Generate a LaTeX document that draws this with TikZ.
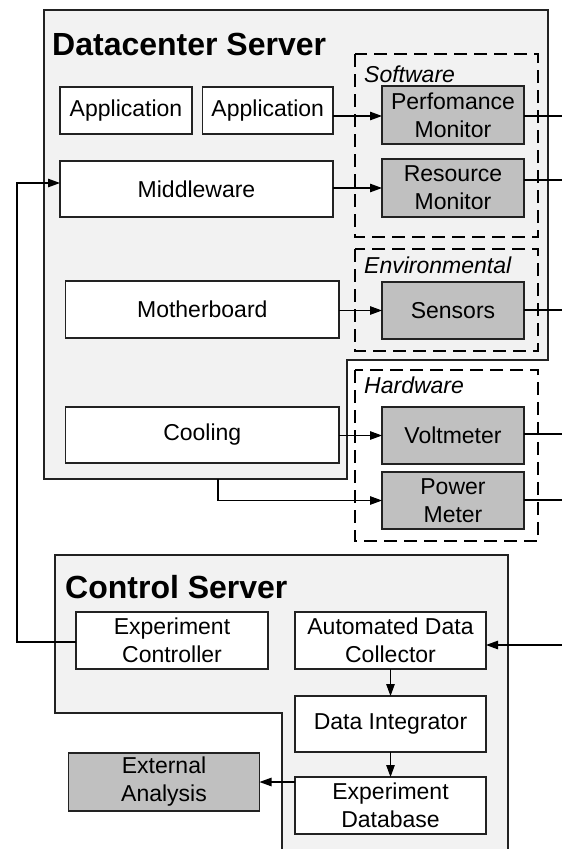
\documentclass[tikz,border=0pt]{standalone}
\usepackage{fontspec}
\setmainfont{Liberation Sans}
\usetikzlibrary{arrows.meta}
\definecolor{srvbg}{HTML}{F2F2F2}
\definecolor{probe}{HTML}{C0C0C0}
\definecolor{edge}{HTML}{222222}
\begin{document}
\begin{tikzpicture}[x=1pt,y=-1pt,
  server/.style={fill=srvbg,draw=edge,line width=1.2pt},
  group/.style={draw=black,line width=2.2pt,dash pattern=on 13pt off 7pt},
  grouplabel/.style={anchor=base west,inner sep=0pt,font=\fontsize{23}{28}\selectfont\itshape},
  title/.style={anchor=base west,inner sep=0pt,font=\fontsize{32}{36}\selectfont\bfseries},
  box/.style={draw=edge,line width=1.2pt,fill=white,inner sep=0pt,outer sep=0pt,
    align=center,font=\fontsize{23}{28}\selectfont},
  probebox/.style={box,fill=probe},
  link/.style={draw=black,line width=1.1pt},
  arrow/.style={link,-{Triangle[length=12pt,width=8.5pt]}}
]
\useasboundingbox (0,0) rectangle (562,849);
\clip (0,0) rectangle (562,849);
\fill[white] (0,0) rectangle (562,849);

% server outlines
\draw[server] (44,10) -- (548,10) -- (548,360) -- (347,360) -- (347,479) -- (44,479) -- cycle;
\draw[server] (55,555) -- (508,555) -- (508,855) -- (282,855) -- (282,713) -- (55,713) -- cycle;

\node[title] (dctitle) at (52,55) {Datacenter Server};
\node[title] (cstitle) at (65,598) {Control Server};

% dashed groups
\draw[group] (355,54) rectangle (538,237);
\draw[group] (355,249) rectangle (538,351);
\draw[group] (355,370) rectangle (538,541);
\node[grouplabel] (swlabel) at (364,82) {Software};
\node[grouplabel] (envlabel) at (364,273) {Environmental};
\node[grouplabel] (hwlabel) at (364,393) {Hardware};

% datacenter nodes
\node[box,minimum width=132pt,minimum height=47pt] (app1) at (126,110.5) {Application};
\node[box,minimum width=130.5pt,minimum height=47pt] (app2) at (267.75,110.5) {Application};
\node[box,minimum width=273pt,minimum height=56pt] (mid) at (196.5,189) {Middleware};
\node[box,minimum width=273.4pt,minimum height=57pt] (mb) at (202.3,309.5) {Motherboard};
\node[box,minimum width=273.4pt,minimum height=56pt] (cool) at (202.3,435) {Cooling};

\node[probebox,minimum width=142pt,minimum height=58pt] (perf) at (453,115) {Perfomance\\Monitor};
\node[probebox,minimum width=142pt,minimum height=58pt] (res) at (453,188) {Resource\\Monitor};
\node[probebox,minimum width=142pt,minimum height=57pt] (sens) at (453,310.5) {Sensors};
\node[probebox,minimum width=142pt,minimum height=57pt] (volt) at (453,435.5) {Voltmeter};
\node[probebox,minimum width=142pt,minimum height=57pt] (pm) at (453,500.5) {Power\\Meter};

% control server nodes
\node[box,minimum width=192pt,minimum height=57pt] (ec) at (172,640.5) {Experiment\\Controller};
\node[box,minimum width=191pt,minimum height=57pt] (adc) at (390.5,640.5) {Automated Data\\Collector};
\node[box,minimum width=191pt,minimum height=56pt] (di) at (390.5,724) {Data Integrator};
\node[box,minimum width=191pt,minimum height=57pt] (db) at (390.5,805.5) {Experiment\\Database};
\node[probebox,minimum width=191pt,minimum height=58pt] (ea) at (164,782) {External\\Analysis};

% free ends
\coordinate (oPerf) at (562,116);
\coordinate (oRes) at (562,180);
\coordinate (oSens) at (562,310);
\coordinate (oVolt) at (562,434);
\coordinate (oPm) at (562,500);
\coordinate (iAdc) at (562,645);
\coordinate (dcb) at (218,479);
\coordinate (fbA) at (17,642);
\coordinate (fbB) at (17,183);

% connectors
\draw[arrow] (app2.east |- oPerf) -- (perf.west |- oPerf);
\draw[arrow] (mid.east |- res.west) -- (res.west);
\draw[arrow] (mb.east |- sens.west) -- (sens.west);
\draw[arrow] (cool.east |- volt.west) -- (volt.west);
\draw[arrow] (dcb) |- (pm.west);

\draw[link] (perf.east |- oPerf) -- (oPerf);
\draw[link] (res.east |- oRes) -- (oRes);
\draw[link] (sens.east |- oSens) -- (oSens);
\draw[link] (volt.east |- oVolt) -- (oVolt);
\draw[link] (pm.east |- oPm) -- (oPm);

\draw[arrow] (iAdc) -- (adc.east |- iAdc);
\draw[arrow] (adc.south) -- (di.north);
\draw[arrow] (di.south) -- (db.north);
\draw[arrow] (db.west |- ea.east) -- (ea.east);

\draw[arrow] (ec.west |- fbA) -- (fbA) -- (fbB) -- (mid.west |- fbB);
\end{tikzpicture}
\end{document}
